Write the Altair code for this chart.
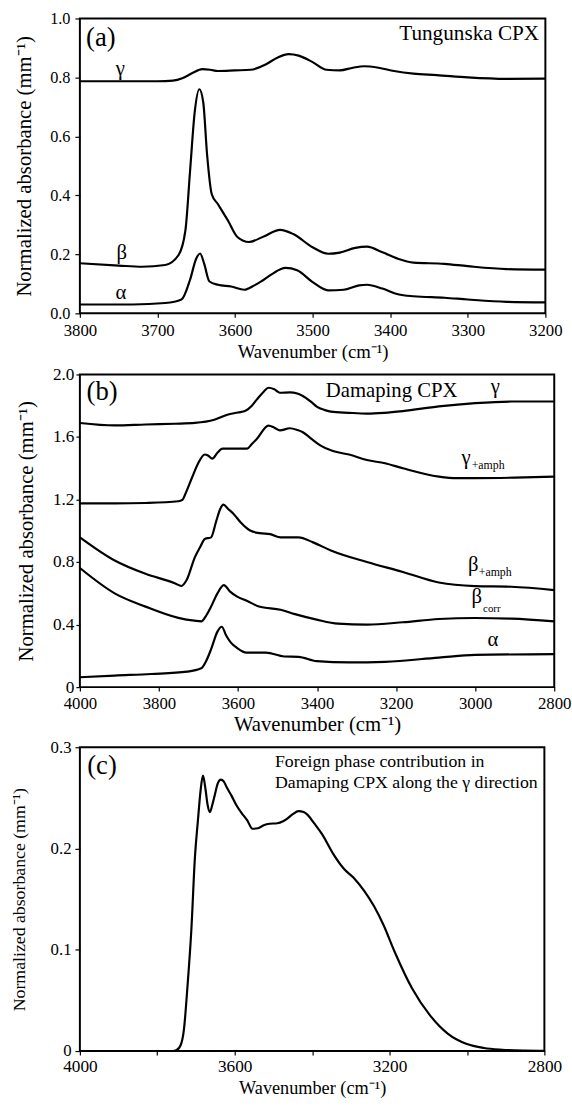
import altair as alt
import pandas as pd

FONT = "Liberation Serif"
AXFONT = "Liberation Serif, Times New Roman, serif"

# ---------------- Panel (a): Tungunska CPX ----------------
A_GAMMA_WN = [3800, 3750, 3700, 3680, 3668, 3655, 3642, 3632, 3622, 3600, 3580, 3560, 3545, 3531, 3518, 3500,
              3482, 3465, 3448, 3434, 3415, 3395, 3370, 3340, 3300, 3250, 3200]
A_GAMMA = [0.787, 0.787, 0.787, 0.789, 0.797, 0.815, 0.828, 0.826, 0.822, 0.824, 0.826, 0.845, 0.868, 0.879, 0.874,
           0.852, 0.826, 0.824, 0.833, 0.838, 0.833, 0.822, 0.813, 0.808, 0.800, 0.795, 0.796]

A_BETA_WN = [3800, 3750, 3720, 3690, 3673, 3664, 3658, 3652, 3646, 3641, 3636, 3630, 3622, 3609, 3597, 3582, 3563,
             3542, 3525, 3500, 3480, 3465, 3445, 3430, 3410, 3390, 3370, 3330, 3300, 3250, 3200]
A_BETA = [0.170, 0.162, 0.158, 0.164, 0.197, 0.281, 0.482, 0.682, 0.760, 0.716, 0.537, 0.404, 0.370, 0.314, 0.259,
          0.242, 0.261, 0.283, 0.269, 0.224, 0.202, 0.206, 0.222, 0.226, 0.207, 0.185, 0.172, 0.168, 0.160, 0.150,
          0.148]

A_ALPHA_WN = [3800, 3732, 3690, 3669, 3658, 3650, 3645, 3640, 3633, 3622, 3605, 3588, 3575, 3563, 3542, 3535, 3520,
              3500, 3480, 3460, 3440, 3430, 3410, 3390, 3370, 3330, 3300, 3250, 3200]
A_ALPHA = [0.030, 0.030, 0.035, 0.047, 0.114, 0.186, 0.203, 0.170, 0.108, 0.097, 0.091, 0.080, 0.095, 0.114, 0.149,
           0.154, 0.146, 0.106, 0.078, 0.080, 0.095, 0.097, 0.084, 0.065, 0.058, 0.053, 0.047, 0.039, 0.037]

# ---------------- Panel (b): Damaping CPX ----------------
B_GAMMA_WN = [4000, 3912, 3834, 3760, 3709, 3660, 3627, 3600, 3581, 3565, 3552, 3535, 3523, 3508, 3494, 3469, 3450,
              3436, 3415, 3401, 3380, 3365, 3320, 3274, 3230, 3183, 3092, 3000, 2909, 2800]
B_GAMMA = [1.690, 1.674, 1.680, 1.685, 1.690, 1.710, 1.743, 1.757, 1.768, 1.800, 1.841, 1.890, 1.915, 1.905, 1.883,
           1.886, 1.878, 1.862, 1.825, 1.795, 1.772, 1.762, 1.755, 1.750, 1.755, 1.766, 1.796, 1.817, 1.827, 1.827]

B_GAMP_WN = [4000, 3912, 3834, 3751, 3740, 3734, 3717, 3701, 3684, 3676, 3665, 3652, 3639, 3610, 3577, 3565, 3552,
             3523, 3508, 3494, 3469, 3450, 3436, 3415, 3392, 3360, 3319, 3274, 3228, 3183, 3092, 3046, 3000, 2900,
             2800]
B_GAMP = [1.175, 1.175, 1.178, 1.189, 1.200, 1.231, 1.336, 1.431, 1.488, 1.482, 1.462, 1.500, 1.526, 1.526, 1.526,
          1.555, 1.589, 1.673, 1.660, 1.642, 1.656, 1.645, 1.631, 1.590, 1.547, 1.510, 1.488, 1.453, 1.432, 1.400,
          1.347, 1.337, 1.337, 1.340, 1.347]

B_BAMP_WN = [4000, 3912, 3834, 3760, 3743, 3730, 3709, 3695, 3684, 3668, 3655, 3645, 3637, 3625, 3610, 3593, 3568,
             3545, 3519, 3492, 3447, 3410, 3365, 3274, 3183, 3092, 3000, 2909, 2800]
B_BAMP = [0.958, 0.810, 0.725, 0.665, 0.647, 0.685, 0.832, 0.900, 0.948, 0.958, 1.063, 1.140, 1.168, 1.140, 1.105,
          1.053, 1.000, 0.985, 0.979, 0.958, 0.958, 0.926, 0.874, 0.800, 0.737, 0.669, 0.646, 0.642, 0.621]

B_BCORR_WN = [4000, 3912, 3834, 3751, 3710, 3693, 3680, 3668, 3652, 3636, 3620, 3602, 3579, 3547, 3492, 3456, 3401,
              3347, 3274, 3183, 3092, 3000, 2909, 2800]
B_BCORR = [0.762, 0.600, 0.515, 0.443, 0.425, 0.421, 0.460, 0.516, 0.600, 0.653, 0.611, 0.579, 0.554, 0.516, 0.495,
           0.467, 0.432, 0.406, 0.400, 0.415, 0.436, 0.442, 0.438, 0.421]

B_ALPHA_WN = [4000, 3912, 3820, 3729, 3693, 3680, 3668, 3652, 3641, 3630, 3618, 3602, 3579, 3529, 3483, 3447, 3401,
              3319, 3228, 3092, 3000, 2800]
B_ALPHA = [0.063, 0.074, 0.084, 0.099, 0.121, 0.170, 0.243, 0.355, 0.386, 0.330, 0.285, 0.250, 0.221, 0.221, 0.196,
           0.194, 0.166, 0.158, 0.162, 0.189, 0.206, 0.211]

# ---------------- Panel (c): foreign phase contribution ----------------
C_WN = [4000, 3800, 3760, 3750, 3740, 3731, 3722, 3712, 3703, 3695, 3688, 3682, 3676, 3670, 3664, 3658, 3652, 3644,
        3636, 3628, 3620, 3608, 3596, 3582, 3568, 3554, 3540, 3525, 3510, 3490, 3475, 3466, 3450, 3435, 3422, 3411,
        3395, 3374, 3346, 3318, 3290, 3265, 3240, 3215, 3188, 3142, 3095, 3049, 3002, 2956, 2909, 2850, 2800]
C_VAL = [0.0, 0.0, 0.0, 0.001, 0.0055, 0.022, 0.064, 0.120, 0.190, 0.228, 0.258, 0.272, 0.260, 0.243, 0.236, 0.243,
         0.252, 0.264, 0.268, 0.266, 0.260, 0.252, 0.243, 0.235, 0.228, 0.2195, 0.220, 0.223, 0.2245, 0.225, 0.227,
         0.229, 0.234, 0.237, 0.236, 0.233, 0.225, 0.214, 0.195, 0.180, 0.170, 0.158, 0.143, 0.124, 0.099, 0.062,
         0.035, 0.017, 0.0072, 0.003, 0.0013, 0.0005, 0.0003]

# ---------------- tick values ----------------
A_XTICKS = [3800, 3700, 3600, 3500, 3400, 3300, 3200]
A_YTICKS = [0.0, 0.2, 0.4, 0.6, 0.8, 1.0]
B_XTICKS = [4000, 3800, 3600, 3400, 3200, 3000, 2800]
B_YTICKS = [0.0, 0.4, 0.8, 1.2, 1.6, 2.0]
C_XTICKS = [4000, 3800, 3600, 3400, 3200, 3000, 2800]
C_YTICKS = [0.0, 0.1, 0.2, 0.3]

# ---------------- annotation texts ----------------
A_LETTER = pd.DataFrame({"wn": [3792], "val": [0.933], "t": ["(a)"]})
A_TITLE = pd.DataFrame({"wn": [3208], "val": [0.927], "t": ["Tungunska CPX"]})
A_GREEK = pd.DataFrame({"wn": [3748, 3746, 3747], "val": [0.809, 0.186, 0.047], "t": ["γ", "β", "α"]})

B_LETTER = pd.DataFrame({"wn": [3983], "val": [1.89], "t": ["(b)"]})
B_TITLE = pd.DataFrame({"wn": [3378], "val": [1.859], "t": ["Damaping CPX"]})
B_GREEK = pd.DataFrame({"wn": [2949, 3023, 3005, 2996, 2955], "val": [1.884, 1.43, 0.743, 0.537, 0.263],
                        "t": ["γ", "γ", "β", "β", "α"]})
B_SUB = pd.DataFrame({"wn": [3009, 2991], "val": [1.396, 0.709], "t": ["+amph", "+amph"]})
B_SUB2 = pd.DataFrame({"wn": [2980], "val": [0.478], "t": ["corr"]})

C_LETTER = pd.DataFrame({"wn": [3981], "val": [0.2818], "t": ["(c)"]})
C_NOTE = pd.DataFrame({"wn": [3496, 3496], "val": [0.2805, 0.2593],
                       "t": ["Foreign phase contribution in", "Damaping CPX along the γ direction"]})


def long(pairs):
    frames = []
    for name, wn, val in pairs:
        frames.append(pd.DataFrame({"wn": wn, "val": val, "s": name}))
    return pd.concat(frames, ignore_index=True)


def make_panel(df, xdom, xticks, xexpr, ydom, yticks, yexpr, w, h, lab_x, lab_y, tit_x, tit_y,
               xlp, xtp, ylp, ytitle_x, ytick, texts):
    common = dict(labelFont=AXFONT, titleFont=AXFONT, titleFontWeight="normal", labelColor="black",
                  titleColor="black", tickColor="black", tickWidth=1.2, domain=False, grid=False,
                  labelFlush=False, labelOverlap=False)
    xs = alt.Scale(domain=xdom, reverse=True, nice=False, zero=False)
    ys = alt.Scale(domain=ydom, nice=False, zero=False)
    xa = alt.Axis(values=xticks, labelExpr=xexpr, title="Wavenumber (cm⁻¹)",
                  labelFontSize=lab_x, titleFontSize=tit_x, labelPadding=xlp,
                  titlePadding=xtp, tickSize=4, **common)
    ya = alt.Axis(values=yticks, labelExpr=yexpr, title="Normalized absorbance (mm⁻¹)",
                  labelFontSize=lab_y, titleFontSize=tit_y, labelPadding=ylp,
                  titleX=ytitle_x, tickSize=ytick, **common)
    lines = alt.Chart(df).mark_line(color="black", strokeWidth=2.2, interpolate="monotone").encode(
        x=alt.X("wn:Q", scale=xs, axis=xa), y=alt.Y("val:Q", scale=ys, axis=ya), detail="s:N")
    layers = [lines]
    for tdf, size, align, baseline in texts:
        layers.append(
            alt.Chart(tdf).mark_text(font=FONT, fontSize=size, align=align, baseline=baseline,
                                     color="black").encode(
                x=alt.X("wn:Q", scale=xs, axis=xa),
                y=alt.Y("val:Q", scale=ys, axis=ya),
                text="t:N"))
    return alt.layer(*layers).properties(width=w, height=h)


dfa = long([("g", A_GAMMA_WN, A_GAMMA), ("b", A_BETA_WN, A_BETA), ("a", A_ALPHA_WN, A_ALPHA)])
dfb = long([("g", B_GAMMA_WN, B_GAMMA), ("ga", B_GAMP_WN, B_GAMP), ("ba", B_BAMP_WN, B_BAMP),
            ("bc", B_BCORR_WN, B_BCORR), ("a", B_ALPHA_WN, B_ALPHA)])
dfc = long([("c", C_WN, C_VAL)])

one_dec = "format(datum.value, '.1f')"
zero_or = "datum.value == 0 ? '0' : format(datum.value, '.1f')"

pa = make_panel(dfa, [3200, 3800], A_XTICKS, "format(datum.value, 'd')", [0, 1.0], A_YTICKS, one_dec,
                472, 299, 17, 16.5, 19, 21, 5, 5, 5, -46, 5,
                [(A_LETTER, 27, "left", "middle"), (A_TITLE, 21.5, "right", "alphabetic"),
                 (A_GREEK, 21, "center", "alphabetic")])
pb = make_panel(dfb, [2800, 4000], B_XTICKS, "format(datum.value, 'd')", [0, 2.0], B_YTICKS, zero_or,
                481, 317, 17, 17.5, 21, 21, 5, 2, 2, -44, 4,
                [(B_LETTER, 27, "left", "middle"), (B_TITLE, 21, "left", "alphabetic"),
                 (B_GREEK, 21, "center", "alphabetic"), (B_SUB, 12, "left", "alphabetic"),
                 (B_SUB2, 11, "left", "alphabetic")])
pc = make_panel(dfc, [2800, 4000], C_XTICKS,
                "datum.value % 400 == 0 ? format(datum.value, 'd') : ''", [0, 0.3], C_YTICKS, zero_or,
                471, 308, 17.5, 17, 18.5, 18, 3, 4, 4, -52, 5,
                [(C_LETTER, 27, "left", "middle"), (C_NOTE, 18, "left", "alphabetic")])

chart = alt.concat(pa, pb, pc, columns=1, spacing=2, align="none").properties(
    padding={"left": 10, "top": 2, "right": 0, "bottom": 0},
    background="white",
).configure(
    font=FONT,
).configure_axis(
    labelFont=AXFONT, titleFont=AXFONT
).configure_view(
    stroke="black", strokeWidth=2
)

chart.save("out.html", embed_options={"renderer": "svg", "actions": False})
